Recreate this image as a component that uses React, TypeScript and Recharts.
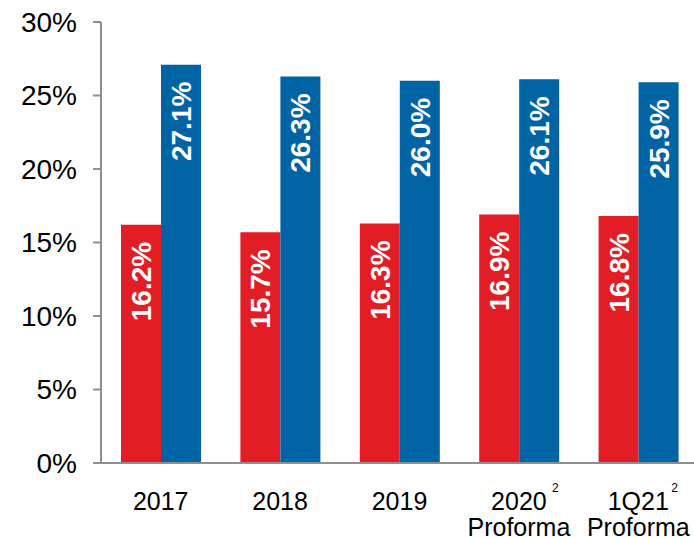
import { Bar, BarChart, LabelList, XAxis, YAxis } from 'recharts';

const categories = ['2017', '2018', '2019', '2020', '1Q21'];
const subLines = ['', '', '', 'Proforma', 'Proforma'];
const footnotes = ['', '', '', '2', '2'];
const redValues = [16.2, 15.7, 16.3, 16.9, 16.8];
const blueValues = [27.1, 26.3, 26.0, 26.1, 25.9];
const yTicks = [0, 5, 10, 15, 20, 25, 30];

const RED = '#E31D25';
const BLUE = '#0063A3';
const AXIS = '#8f8f8f';
const FONT = '"Liberation Sans", Arial, sans-serif';

const data = categories.map((name, i) => ({
  name,
  red: redValues[i],
  blue: blueValues[i],
}));

// rotated white value label, sitting near the top of the bar
const BarLabel = (props: any) => {
  const { x, y, width, value } = props;
  const cx = x + width / 2 + 10;
  const cy = y + 17;
  return (
    <text
      x={cx}
      y={cy}
      transform={`rotate(-90, ${cx}, ${cy})`}
      textAnchor="end"
      fill="#fff"
      fontSize={28}
      fontWeight="bold"
      fontFamily={FONT}
    >
      {`${Number(value).toFixed(1)}%`}
    </text>
  );
};

const CategoryTick = (props: any) => {
  const { x, y, payload, index } = props;
  const note = footnotes[index];
  const sub = subLines[index];
  return (
    <g>
      <text x={x} y={y + 39} textAnchor="middle" fill="#000" fontSize={25} fontFamily={FONT}>
        {payload.value}
      </text>
      {note && (
        <text x={x + 33} y={y + 21} textAnchor="start" fill="#000" fontSize={12} fontFamily={FONT}>
          {note}
        </text>
      )}
      {sub && (
        <text x={x} y={y + 65} textAnchor="middle" fill="#000" fontSize={25} fontFamily={FONT}>
          {sub}
        </text>
      )}
    </g>
  );
};

export default function App() {
  return (
    <div
      style={{
        position: 'absolute',
        left: 0,
        top: 0,
        width: 694,
        height: 538,
        overflow: 'hidden',
        background: '#fff',
      }}
    >
      <BarChart
        width={710}
        height={538}
        data={data}
        margin={{ top: 22, right: 12, left: 0, bottom: 0 }}
        barGap={0}
        barSize={40}
      >
        <XAxis
          dataKey="name"
          tickLine={false}
          axisLine={{ stroke: AXIS, strokeWidth: 2 }}
          height={75}
          interval={0}
          tick={<CategoryTick />}
        />
        <YAxis
          domain={[0, 30]}
          ticks={yTicks}
          width={101}
          axisLine={{ stroke: AXIS, strokeWidth: 2 }}
          tickLine={{ stroke: AXIS, strokeWidth: 2 }}
          tickSize={8}
          tickMargin={16}
          tickFormatter={(v: number) => `${v}%`}
          tick={{ fontSize: 28, fill: '#000', fontFamily: FONT }}
        />
        <Bar dataKey="red" fill={RED} isAnimationActive={false}>
          <LabelList dataKey="red" content={<BarLabel />} />
        </Bar>
        <Bar dataKey="blue" fill={BLUE} isAnimationActive={false}>
          <LabelList dataKey="blue" content={<BarLabel />} />
        </Bar>
      </BarChart>
    </div>
  );
}
